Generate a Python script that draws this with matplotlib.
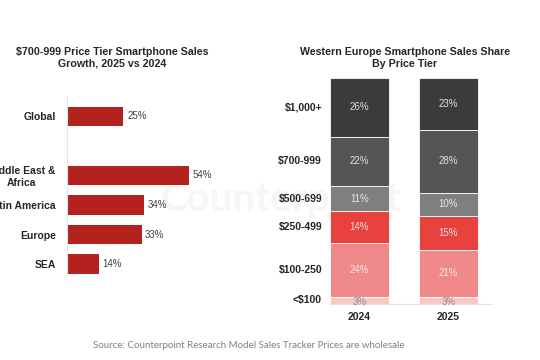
import numpy as np
import matplotlib.pyplot as plt

plt.rcParams['font.family'] = ['Liberation Sans', 'DejaVu Sans']

# left panel: growth of $700-999 tier
regions = ["Global", "Middle East &\nAfrica", "Latin America", "Europe", "SEA"]
region_pos = [0, 2, 3, 4, 5]
growth = [25, 54, 34, 33, 14]

# right panel: Western Europe share by tier
years = ["2024", "2025"]
tiers = ["<$100", "$100-250", "$250-499", "$500-699", "$700-999", "$1,000+"]
share_2024 = [3, 24, 14, 11, 22, 26]
share_2025 = [3, 21, 15, 10, 28, 23]
tier_colors = ["#f6c8c8", "#f08a8a", "#e8423f", "#7f7f7f", "#555555", "#3b3b3b"]
label_colors = ["#8a8a8a", "#f3e6e6", "#f3dede", "#e6e6e6", "#e0e0e0", "#e0e0e0"]

fig = plt.figure(figsize=(5.4, 3.6), dpi=100)

# faint watermark behind everything
fig.text(0.52, 0.445, "Counterpoint", fontsize=29, family="Lato", fontweight="bold",
         color="#f6f6f6", ha="center", va="center", zorder=-5)

# ---- left chart
ax1 = fig.add_axes([0.124, 0.236, 0.339, 0.494])
ax1.patch.set_alpha(0)
ax1.barh(region_pos, growth, height=0.65, color="#b3221c")
for p, g in zip(region_pos, growth):
    ax1.text(g + 1.6, p, f"{g}%", va="center", ha="left", fontsize=7, color="#404040")
ax1.set_xlim(0, 81)
ax1.set_ylim(5.37, -0.64)
ax1.set_yticks(region_pos)
ax1.set_yticklabels(regions, fontsize=7.5, fontweight="bold", color="#262626", multialignment="center")
ax1.tick_params(axis="y", length=0, pad=8)
ax1.set_xticks([])
for s in ["top", "right", "bottom"]:
    ax1.spines[s].set_visible(False)
ax1.spines["left"].set_color("#e3e3e3")
ax1.spines["left"].set_linewidth(0.8)

fig.text(0.208, 1 - 58 / 360, "$700-999 Price Tier Smartphone Sales\nGrowth, 2025 vs 2024",
         ha="center", va="center", fontsize=7.7, fontweight="bold", color="#262626", linespacing=1.25)

# ---- right chart
ax2 = fig.add_axes([0.611, 0.156, 0.3, 0.628])
ax2.patch.set_alpha(0)
x = np.arange(len(years))
bottom = np.zeros(2)
for i, t in enumerate(tiers):
    vals = np.array([share_2024[i], share_2025[i]])
    ax2.bar(x, vals, bottom=bottom, width=0.663, color=tier_colors[i], edgecolor="white", linewidth=0.6)
    for xi, v, b in zip(x, vals, bottom):
        ax2.text(xi, b + v / 2 - (0.9 if v < 5 else 0), f"{v}%", ha="center", va="center",
                 fontsize=7, color=label_colors[i])
    ax2.text(-0.42, bottom[0] + share_2024[i] / 2, t, ha="right", va="center",
             fontsize=7.5, fontweight="bold", color="#262626")
    bottom += vals
ax2.set_xlim(-0.331, 1.489)
ax2.set_ylim(0, 100)
ax2.set_xticks(x)
ax2.set_xticklabels(years, fontsize=7.5, fontweight="bold", color="#262626")
ax2.tick_params(axis="x", length=0, pad=6)
ax2.set_yticks([])
for s in ["top", "right", "left"]:
    ax2.spines[s].set_visible(False)
ax2.spines["bottom"].set_color("#e3e3e3")
ax2.spines["bottom"].set_linewidth(0.8)

fig.text(0.75, 1 - 58 / 360, "Western Europe Smartphone Sales Share\nBy Price Tier",
         ha="center", va="center", fontsize=7.7, fontweight="bold", color="#262626", linespacing=1.25)

fig.text(0.46, 1 - 346 / 360, "Source: Counterpoint Research Model Sales Tracker Prices are wholesale",
         ha="center", va="center", fontsize=7, family="Lato", color="#808080")

fig.savefig("out.png", dpi=100)
